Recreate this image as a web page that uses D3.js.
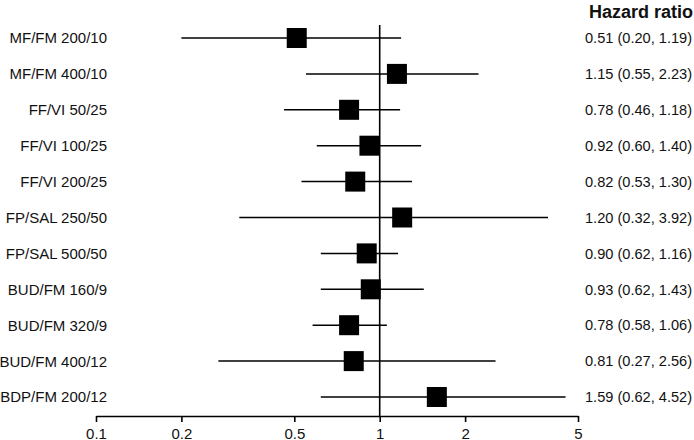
<!DOCTYPE html>
<html>
<head>
<meta charset="utf-8">
<script src="https://cdn.jsdelivr.net/npm/d3@7"></script>
<style>
  html, body { margin: 0; padding: 0; background: #fff; }
  svg { display: block; font-family: "Liberation Sans", Arial, sans-serif; }
</style>
</head>
<body>
<svg id="chart" width="694" height="440"></svg>
<script>
const categories = ["MF/FM 200/10", "MF/FM 400/10", "FF/VI 50/25", "FF/VI 100/25", "FF/VI 200/25",
  "FP/SAL 250/50", "FP/SAL 500/50", "BUD/FM 160/9", "BUD/FM 320/9", "BUD/FM 400/12", "BDP/FM 200/12"];
const hazardRatio = [0.51, 1.15, 0.78, 0.92, 0.82, 1.20, 0.90, 0.93, 0.78, 0.81, 1.59];
const ciLower = [0.20, 0.55, 0.46, 0.60, 0.53, 0.32, 0.62, 0.62, 0.58, 0.27, 0.62];
const ciUpper = [1.19, 2.23, 1.18, 1.40, 1.30, 3.92, 1.16, 1.43, 1.06, 2.56, 4.52];
const tickValues = [0.1, 0.2, 0.5, 1, 2, 5];
const headerText = "Hazard ratio";

const svg = d3.select("#chart");
const x = d3.scaleLog().domain([0.1, 5]).range([96, 578]);
const y = d3.scalePoint().domain(categories).range([38, 397]);
const axisY = 416;
const sq = 20;

svg.append("line")
  .attr("x1", x(1)).attr("x2", x(1))
  .attr("y1", 25).attr("y2", axisY)
  .attr("stroke", "#000").attr("stroke-width", 1.6);

const rows = svg.append("g").selectAll("g").data(categories).join("g");

rows.append("line")
  .attr("x1", (d, i) => x(ciLower[i]))
  .attr("x2", (d, i) => x(ciUpper[i]))
  .attr("y1", d => y(d)).attr("y2", d => y(d))
  .attr("stroke", "#000").attr("stroke-width", 1.5);

rows.append("rect")
  .attr("x", (d, i) => x(hazardRatio[i]) - sq / 2)
  .attr("y", d => y(d) - sq / 2)
  .attr("width", sq).attr("height", sq)
  .attr("fill", "#000");

rows.append("text")
  .attr("x", 107).attr("y", d => y(d))
  .attr("dy", "0.36em")
  .attr("text-anchor", "end")
  .attr("font-size", 15)
  .attr("fill", "#111")
  .text(d => d);

rows.append("text")
  .attr("x", 585).attr("y", d => y(d))
  .attr("dy", "0.36em")
  .attr("font-size", 14.6)
  .attr("fill", "#111")
  .text((d, i) => `${hazardRatio[i].toFixed(2)} (${ciLower[i].toFixed(2)}, ${ciUpper[i].toFixed(2)})`);

svg.append("text")
  .attr("x", 589).attr("y", 12)
  .attr("dy", "0.36em")
  .attr("font-size", 18)
  .attr("font-weight", "bold")
  .attr("fill", "#111")
  .text(headerText);

const axis = d3.axisBottom(x).tickValues(tickValues).tickFormat(d3.format("")).tickSize(6).tickSizeOuter(0);
const gAxis = svg.append("g").attr("transform", `translate(0,${axisY})`).call(axis);
gAxis.select(".domain").attr("stroke", "#000").attr("stroke-width", 1.6);
gAxis.selectAll(".tick line").attr("stroke", "#000").attr("stroke-width", 1.6);
gAxis.selectAll(".tick text")
  .attr("font-size", 15)
  .attr("font-family", "Liberation Sans, Arial, sans-serif")
  .attr("fill", "#111")
  .attr("dy", "0.9em");
</script>
</body>
</html>
